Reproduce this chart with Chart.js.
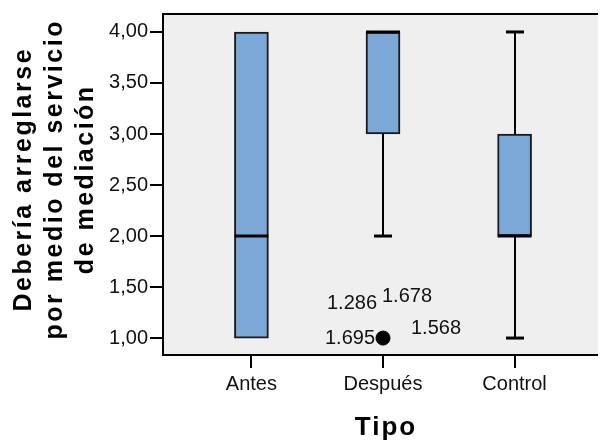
<!DOCTYPE html>
<html>
<head>
<meta charset="utf-8">
<script src="https://cdn.jsdelivr.net/npm/chart.js@4"></script>
<style>
  html, body { margin: 0; padding: 0; background: #fff; }
  #wrap { width: 606px; height: 444px; }
</style>
</head>
<body>
<div id="wrap"><canvas id="chart" width="606" height="444"></canvas></div>
<script>
'use strict';

// ─── Data ────────────────────────────────────────────────────────────────────
const categories   = ['Antes', 'Después', 'Control'];
const whiskerLow   = [1, 2, 1];
const q1           = [1, 3, 2];
const median       = [2, 4, 2];
const q3           = [4, 4, 3];
const whiskerHigh  = [4, 4, 4];
const outliers     = [{ x: 2, y: 1 }];
const outlierIds   = ['1.286', '1.678', '1.695', '1.568'];
const yTicks       = [1, 1.5, 2, 2.5, 3, 3.5, 4];
const yTitle       = ['Debería arreglarse', 'por medio del servicio', 'de mediación'];
const xTitle       = 'Tipo';

const FONT = "'Liberation Sans', Arial, sans-serif";
const BOX_FILL = '#7ba8d6';

// ─── Box plot extras (whiskers, medians, frame, titles, outlier ids) ─────────
const boxPlugin = {
  id: 'boxExtras',
  beforeDraw(chart) {
    const { ctx, chartArea: a } = chart;
    ctx.save();
    ctx.fillStyle = '#efefef';
    ctx.fillRect(a.left, a.top, a.right - a.left, a.bottom - a.top);
    ctx.restore();
  },
  beforeDatasetsDraw(chart) {
    const { ctx, scales: { x, y } } = chart;
    ctx.save();
    ctx.strokeStyle = '#000';
    categories.forEach((c, i) => {
      const cx = Math.round(x.getPixelForValue(i + 1));
      ctx.lineWidth = 2;
      ctx.beginPath();
      ctx.moveTo(cx, y.getPixelForValue(whiskerLow[i]));
      ctx.lineTo(cx, y.getPixelForValue(q1[i]));
      ctx.moveTo(cx, y.getPixelForValue(q3[i]));
      ctx.lineTo(cx, y.getPixelForValue(whiskerHigh[i]));
      ctx.stroke();
      ctx.lineWidth = 3;
      [whiskerLow[i], whiskerHigh[i]].forEach((v, k) => {
        if ((k === 0 && v === q1[i]) || (k === 1 && v === q3[i])) return;
        const py = y.getPixelForValue(v);
        ctx.beginPath();
        ctx.moveTo(cx - 9, py);
        ctx.lineTo(cx + 9, py);
        ctx.stroke();
      });
    });
    ctx.restore();
  },
  afterDatasetsDraw(chart) {
    const { ctx, chartArea: a, scales: { x, y } } = chart;
    ctx.save();
    // medians
    ctx.strokeStyle = '#000';
    ctx.lineWidth = 3;
    categories.forEach((c, i) => {
      const cx = x.getPixelForValue(i + 1);
      const py = y.getPixelForValue(median[i]);
      ctx.beginPath();
      ctx.moveTo(cx - 17, py);
      ctx.lineTo(cx + 17, py);
      ctx.stroke();
    });
    // frame (open on the right, like the original crop)
    ctx.lineWidth = 2;
    ctx.beginPath();
    ctx.moveTo(a.right, a.top);
    ctx.lineTo(a.left, a.top);
    ctx.lineTo(a.left, a.bottom);
    ctx.lineTo(a.right, a.bottom);
    ctx.stroke();
    // outlier case ids
    const px = x.getPixelForValue(outliers[0].x);
    const py = y.getPixelForValue(outliers[0].y);
    ctx.fillStyle = '#111';
    ctx.font = '20px ' + FONT;
    ctx.textBaseline = 'middle';
    const spots = [
      { dx: -6, dy: -35, align: 'right' },
      { dx: -1, dy: -42, align: 'left' },
      { dx: -8, dy: 0, align: 'right' },
      { dx: 28, dy: -10, align: 'left' },
    ];
    outlierIds.forEach((t, k) => {
      ctx.textAlign = spots[k].align;
      ctx.fillText(t, px + spots[k].dx, py + spots[k].dy);
    });
    ctx.restore();
  },
  afterDraw(chart) {
    // axis titles, drawn here so they can carry the wide SPSS letter spacing
    const { ctx, chartArea: a } = chart;
    ctx.save();
    ctx.fillStyle = '#000';
    ctx.textAlign = 'center';
    ctx.textBaseline = 'middle';
    ctx.letterSpacing = '2.5px';
    ctx.font = 'bold 25px ' + FONT;
    const cy = (a.top + a.bottom) / 2 - 4;
    yTitle.forEach((t, k) => {
      ctx.save();
      ctx.translate(24.5 + k * 31, cy);
      ctx.rotate(-Math.PI / 2);
      ctx.fillText(t, 1.25, 0);
      ctx.restore();
    });
    ctx.letterSpacing = '2px';
    ctx.font = 'bold 26px ' + FONT;
    ctx.fillText(xTitle, chart.scales.x.getPixelForValue(2) + 3, 428);
    ctx.restore();
  }
};

// ─── Chart ───────────────────────────────────────────────────────────────────
new Chart(document.getElementById('chart'), {
  type: 'bar',
  data: {
    datasets: [{
      type: 'bar',
      data: categories.map((c, i) => ({ x: i + 1, y: [q1[i], q3[i]] })),
      backgroundColor: BOX_FILL,
      borderColor: '#1a1a1a',
      borderWidth: 2,
      borderSkipped: false,
      barThickness: 34,
      order: 2,
    }, {
      type: 'scatter',
      data: outliers,
      pointRadius: 7,
      pointBackgroundColor: '#000',
      pointBorderColor: '#000',
      order: 1,
    }]
  },
  options: {
    responsive: false,
    animation: false,
    layout: { padding: { top: 13, left: 0, right: 0, bottom: 0 } },
    plugins: { legend: { display: false }, tooltip: { enabled: false } },
    scales: {
      x: {
        type: 'linear',
        min: 0.328,
        max: 3.634,
        offset: false,
        afterBuildTicks: ax => { ax.ticks = categories.map((c, i) => ({ value: i + 1 })); },
        afterFit: ax => { ax.height = 89; },
        grid: { offset: false, drawOnChartArea: false, drawTicks: true, tickLength: 13, color: '#000', lineWidth: 2 },
        border: { display: false },
        ticks: {
          color: '#111',
          padding: 4,
          font: { family: FONT, size: 20 },
          callback: v => categories[v - 1],
        },
      },
      y: {
        min: 0.834,
        max: 4.176,
        afterBuildTicks: ax => { ax.ticks = yTicks.map(v => ({ value: v })); },
        afterFit: ax => { ax.width = 163; },
        grid: { drawOnChartArea: false, drawTicks: true, tickLength: 13, color: '#000', lineWidth: 2 },
        border: { display: false },
        ticks: {
          color: '#111',
          padding: 2,
          font: { family: FONT, size: 20 },
          callback: v => v.toFixed(2).replace('.', ','),
        },
      },
    },
  },
  plugins: [boxPlugin],
});
</script>
</body>
</html>
